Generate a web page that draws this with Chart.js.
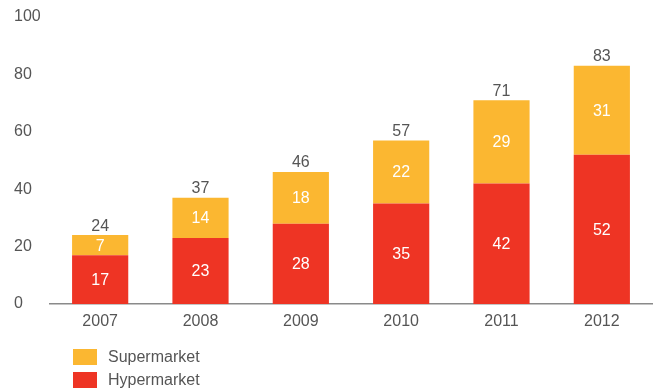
<!DOCTYPE html>
<html>
<head>
<meta charset="utf-8">
<script src="https://cdn.jsdelivr.net/npm/chart.js@4/dist/chart.umd.min.js"></script>
<style>
  html, body { margin: 0; padding: 0; background: #fff; }
  #wrap { width: 659px; height: 390px; position: relative; }
</style>
</head>
<body>
<div id="wrap"><canvas id="c" width="659" height="390"></canvas></div>
<script>
const years = ['2007', '2008', '2009', '2010', '2011', '2012'];
const hypermarket = [17, 23, 28, 35, 42, 52];
const supermarket = [7, 14, 18, 22, 29, 31];
const totals = [24, 37, 46, 57, 71, 83];
const yTicks = [0, 20, 40, 60, 80, 100];

const RED = '#EE3424';
const YELLOW = '#FBB731';
const TEXT = '#555555';
const FONT = '"Liberation Sans", Arial, Helvetica, sans-serif';

// Values inside each segment, totals above each stack, and a stacked legend below
const labelPlugin = {
  id: 'stackLabels',
  afterDatasetsDraw(chart) {
    const ctx = chart.ctx;
    ctx.save();
    ctx.font = '16px ' + FONT;
    ctx.textAlign = 'center';
    ctx.textBaseline = 'middle';
    chart.data.datasets.forEach((ds, di) => {
      const meta = chart.getDatasetMeta(di);
      meta.data.forEach((bar, i) => {
        const cy = (bar.y + bar.base) / 2;
        ctx.fillStyle = '#ffffff';
        ctx.fillText(String(ds.data[i]), bar.x, cy + 1);
      });
    });
    const topMeta = chart.getDatasetMeta(1);
    const yScale = chart.scales.y;
    ctx.fillStyle = TEXT;
    ctx.textBaseline = 'bottom';
    topMeta.data.forEach((bar, i) => {
      ctx.fillText(String(totals[i]), bar.x, yScale.getPixelForValue(totals[i]) - 1);
    });

    // Legend: top series first
    const items = [chart.data.datasets[1], chart.data.datasets[0]];
    ctx.textAlign = 'left';
    ctx.textBaseline = 'middle';
    items.forEach((ds, k) => {
      const top = 349 + k * 23;
      ctx.fillStyle = ds.backgroundColor;
      ctx.fillRect(73, top, 24, 16);
      ctx.fillStyle = TEXT;
      ctx.fillText(ds.label, 108, top + 9);
    });
    ctx.restore();
  }
};

new Chart(document.getElementById('c'), {
  type: 'bar',
  data: {
    labels: years,
    datasets: [
      { label: 'Hypermarket', data: hypermarket, backgroundColor: RED },
      { label: 'Supermarket', data: supermarket, backgroundColor: YELLOW }
    ]
  },
  options: {
    responsive: false,
    animation: false,
    devicePixelRatio: 1,
    layout: { padding: { top: 17, left: 14, right: 7, bottom: 0 } },
    datasets: { bar: { barPercentage: 0.56, categoryPercentage: 1.0 } },
    plugins: { legend: { display: false }, tooltip: { enabled: false } },
    scales: {
      x: {
        stacked: true,
        grid: { display: false, drawTicks: false },
        border: { display: true, color: '#8a8a8a', width: 1.5 },
        ticks: { color: TEXT, font: { family: FONT, size: 16 }, padding: 8 },
        afterFit(scale) { scale.height = 86; }
      },
      y: {
        stacked: true,
        min: 0,
        max: 100,
        afterBuildTicks(scale) { scale.ticks = yTicks.map(v => ({ value: v })); },
        grid: { display: false, drawTicks: false },
        border: { display: false },
        ticks: { color: TEXT, font: { family: FONT, size: 16 }, crossAlign: 'far', padding: 0 },
        afterFit(scale) { scale.width = 36; }
      }
    }
  },
  plugins: [labelPlugin]
});
</script>
</body>
</html>
